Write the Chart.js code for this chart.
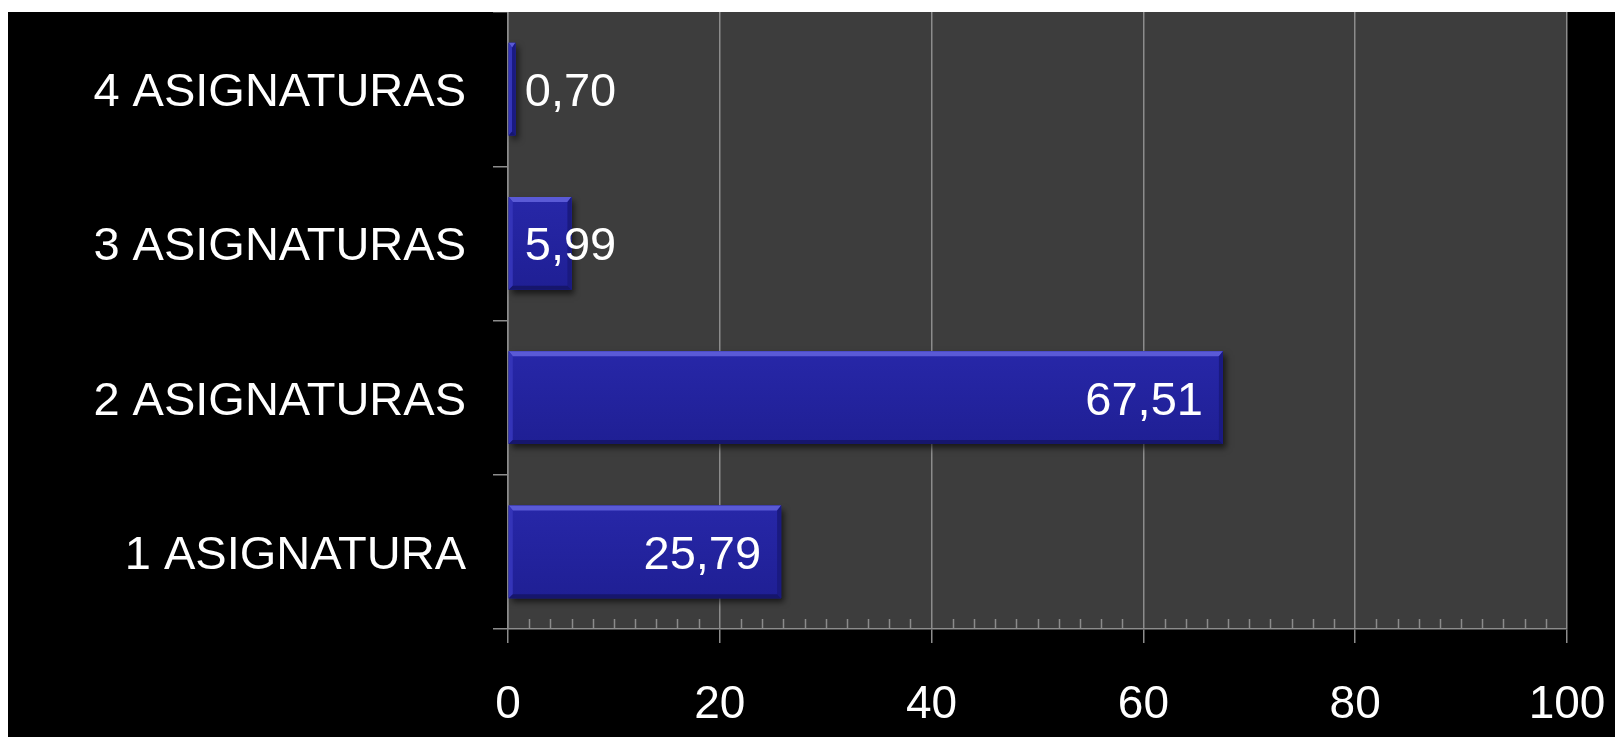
<!DOCTYPE html>
<html>
<head>
<meta charset="utf-8">
<script src="https://cdn.jsdelivr.net/npm/chart.js@4/dist/chart.umd.min.js"></script>
<style>
    html, body { margin: 0; padding: 0; background: #fff; }
    #wrap { position: absolute; left: 8px; top: 12px; width: 1607px; height: 725px; background: #000; }
</style>
</head>
<body>
<div id="wrap"><canvas id="chart"></canvas></div>
<script>
const categories = ['1 ASIGNATURA', '2 ASIGNATURAS', '3 ASIGNATURAS', '4 ASIGNATURAS'];
const percentages = [25.79, 67.51, 5.99, 0.70];
const xMin = 0;
const xMax = 100;
const xStep = 20;
const minorStep = 2;

const FONT = "'Liberation Sans', Arial, sans-serif";
const GRID = '#8c8c8c';

// plot background + minor ticks pointing up from the x axis
const plotBackground = {
    id: 'plotBackground',
    beforeDraw(chart) {
        const { ctx, chartArea: a } = chart;
        ctx.save();
        ctx.fillStyle = '#3d3d3d';
        ctx.fillRect(a.left, a.top, a.right - a.left, a.bottom - a.top);
        ctx.restore();
    },
    afterDraw(chart) {
        const { ctx, chartArea: a } = chart;
        const x = chart.scales.x;
        ctx.save();
        ctx.strokeStyle = GRID;
        ctx.lineWidth = 1.5;
        for (let v = xMin + minorStep; v < xMax; v += minorStep) {
            if (v % xStep === 0) continue;
            const px = Math.round(x.getPixelForValue(v)) + 0.5;
            ctx.beginPath();
            ctx.moveTo(px, a.bottom);
            ctx.lineTo(px, a.bottom - 10);
            ctx.stroke();
        }
        ctx.restore();
    }
};

// bevelled bars and value labels
const barDecor = {
    id: 'barDecor',
    beforeDatasetsDraw(chart) {
        const { ctx } = chart;
        const meta = chart.getDatasetMeta(0);
        ctx.save();
        ctx.shadowColor = 'rgba(0,0,0,0.6)';
        ctx.shadowBlur = 6;
        ctx.shadowOffsetX = 3;
        ctx.shadowOffsetY = 4;
        ctx.fillStyle = '#1c1c80';
        meta.data.forEach(el => {
            const h = el.height;
            ctx.fillRect(el.base, el.y - h / 2, el.x - el.base, h);
        });
        ctx.restore();
    },
    afterDatasetsDraw(chart) {
        const { ctx } = chart;
        const meta = chart.getDatasetMeta(0);
        ctx.save();
        meta.data.forEach((el, i) => {
            const h = el.height;
            const left = el.base, right = el.x, top = el.y - h / 2, bottom = el.y + h / 2;
            const w = right - left;
            const g = ctx.createLinearGradient(0, top, 0, bottom);
            g.addColorStop(0, '#2727a8');
            g.addColorStop(1, '#1f1f94');
            ctx.fillStyle = g;
            ctx.fillRect(left, top, w, h);
            const bw = Math.min(4, w / 2);
            // top bevel
            ctx.fillStyle = '#5a5ad6';
            ctx.beginPath();
            ctx.moveTo(left, top); ctx.lineTo(right, top);
            ctx.lineTo(right - bw, top + 5); ctx.lineTo(left + bw, top + 5);
            ctx.closePath(); ctx.fill();
            // left bevel
            ctx.fillStyle = '#3434b8';
            ctx.beginPath();
            ctx.moveTo(left, top); ctx.lineTo(left + bw, top + 5);
            ctx.lineTo(left + bw, bottom - 4); ctx.lineTo(left, bottom);
            ctx.closePath(); ctx.fill();
            // right bevel
            ctx.fillStyle = '#1a1a80';
            ctx.beginPath();
            ctx.moveTo(right, top); ctx.lineTo(right - bw, top + 5);
            ctx.lineTo(right - bw, bottom - 4); ctx.lineTo(right, bottom);
            ctx.closePath(); ctx.fill();
            // bottom bevel
            ctx.fillStyle = '#16166c';
            ctx.beginPath();
            ctx.moveTo(left, bottom); ctx.lineTo(left + bw, bottom - 4);
            ctx.lineTo(right - bw, bottom - 4); ctx.lineTo(right, bottom);
            ctx.closePath(); ctx.fill();

            // value label
            const text = percentages[i].toFixed(2).replace('.', ',');
            ctx.font = '47px ' + FONT;
            ctx.fillStyle = '#ffffff';
            ctx.textBaseline = 'middle';
            const tw = ctx.measureText(text).width;
            if (w > tw + 40) {
                ctx.textAlign = 'right';
                ctx.fillText(text, right - 20, el.y + 4);
            } else {
                ctx.textAlign = 'left';
                ctx.fillText(text, left + 16, el.y + 4);
            }
        });
        ctx.restore();
    }
};

new Chart(document.getElementById('chart'), {
    type: 'bar',
    data: {
        labels: categories,
        datasets: [{
            data: percentages,
            backgroundColor: '#23239b',
            borderWidth: 0,
            categoryPercentage: 1,
            barPercentage: 0.6
        }]
    },
    options: {
        indexAxis: 'y',
        responsive: true,
        maintainAspectRatio: false,
        animation: false,
        layout: { padding: { top: 0, right: 48, bottom: 0, left: 0 } },
        plugins: {
            legend: { display: false },
            tooltip: { enabled: false }
        },
        scales: {
            x: {
                min: xMin,
                max: xMax,
                ticks: {
                    stepSize: xStep,
                    color: '#ffffff',
                    font: { family: FONT, size: 46 },
                    padding: 35,
                    maxRotation: 0
                },
                grid: {
                    color: GRID,
                    lineWidth: 1.5,
                    tickLength: 14
                },
                border: { color: GRID, width: 1.5 },
                afterFit(scale) {
                    scale.height = 108;
                    scale.paddingLeft = 0;
                    scale.paddingRight = 0;
                }
            },
            y: {
                reverse: true,
                ticks: {
                    color: '#ffffff',
                    font: { family: FONT, size: 47 },
                    padding: 27,
                    labelOffset: 4
                },
                grid: {
                    offset: true,
                    drawOnChartArea: false,
                    color: GRID,
                    lineWidth: 1.5,
                    tickLength: 15
                },
                border: { color: GRID, width: 1.5 },
                afterFit(scale) {
                    scale.width = 500;
                    scale.paddingTop = 0;
                    scale.paddingBottom = 0;
                }
            }
        }
    },
    plugins: [plotBackground, barDecor]
});
</script>
</body>
</html>
